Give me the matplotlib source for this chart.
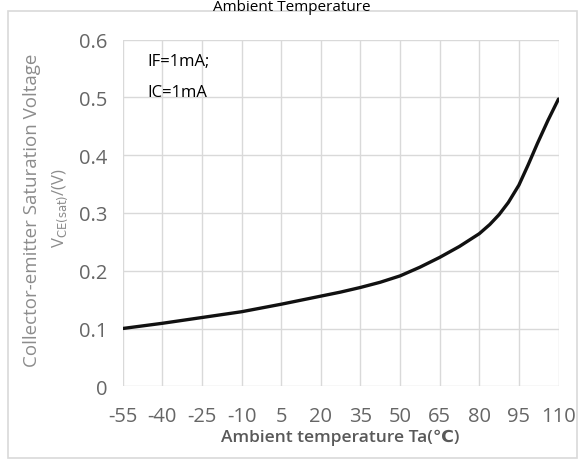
import matplotlib
matplotlib.use("Agg")
import matplotlib.pyplot as plt
from matplotlib.patches import Rectangle

plt.rcParams["axes.unicode_minus"] = False

# temperature (degC) vs collector-emitter saturation voltage (V)
temps = [-55, -40, -25, -10, 5, 20, 27.5, 35, 42.5, 50, 57.5, 65, 72.5, 80,
         84, 87.5, 91, 95, 98.5, 102, 106, 110]
vce_sat = [0.100, 0.109, 0.119, 0.129, 0.142, 0.156, 0.163, 0.171, 0.180, 0.191,
           0.206, 0.223, 0.242, 0.264, 0.280, 0.297, 0.318, 0.348, 0.383, 0.420,
           0.460, 0.497]

x_ticks = [-55, -40, -25, -10, 5, 20, 35, 50, 65, 80, 95, 110]
y_ticks = [0, 0.1, 0.2, 0.3, 0.4, 0.5, 0.6]
y_tick_labels = ["0", "0.1", "0.2", "0.3", "0.4", "0.5", "0.6"]

FONTS = ["Open Sans", "DejaVu Sans"]

W, H = 579, 464
fig = plt.figure(figsize=(W / 100, H / 100), dpi=100)
fig.patch.set_facecolor("white")

# light frame around the whole chart
fig.patches.append(Rectangle((8 / W, 1 - 459 / H), (577 - 8) / W, (459 - 12) / H,
                             transform=fig.transFigure, fill=False,
                             edgecolor="#d9d9d9", linewidth=1.2))

left, right, top, bottom = 122.7, 558.5, 40.5, 387.3
ax = fig.add_axes([left / W, 1 - bottom / H, (right - left) / W, (bottom - top) / H])

ax.plot(temps, vce_sat, color="#111111", linewidth=2.4,
        solid_capstyle="round", solid_joinstyle="round")

ax.set_xlim(-55, 110)
ax.set_ylim(0, 0.6)
ax.set_xticks(x_ticks)
ax.set_yticks(y_ticks)
ax.set_yticklabels(y_tick_labels)
ax.grid(True, color="#d9d9d9", linewidth=1.0)
ax.set_axisbelow(True)
for s in ax.spines.values():
    s.set_visible(False)
ax.tick_params(length=0, labelsize=14.5, colors="#666666")
ax.tick_params(axis="y", pad=11)
ax.tick_params(axis="x", pad=14)
for lab in ax.get_xticklabels() + ax.get_yticklabels():
    lab.set_family(FONTS)

ax.set_xlabel("Ambient temperature Ta(\u2103)", fontsize=12.5, color="#595959",
              fontweight="semibold", family=FONTS, labelpad=2)

fig.text(32 / W, 1 - 210 / H, "Collector-emitter Saturation Voltage", rotation=90,
         ha="center", va="center", fontsize=13.5, color="#8c8c8c", family=FONTS)
fig.text(60 / W, 1 - 208 / H, r"V$_{\mathrm{CE(sat)}}$/(V)", rotation=90,
         ha="center", va="center", fontsize=12, color="#8c8c8c", family=FONTS)

ax.text(147 / W, 1 - 62 / H, "IF=1mA;", transform=fig.transFigure, ha="left",
        va="center", fontsize=12, color="black", family=FONTS)
ax.text(147 / W, 1 - 93 / H, "IC=1mA", transform=fig.transFigure, ha="left",
        va="center", fontsize=12, color="black", family=FONTS)

fig.text(292 / W, 1 - 11 / H, "Ambient Temperature", ha="center", va="baseline",
         fontsize=11, color="black", family=FONTS)

fig.savefig("out.png", dpi=100)
